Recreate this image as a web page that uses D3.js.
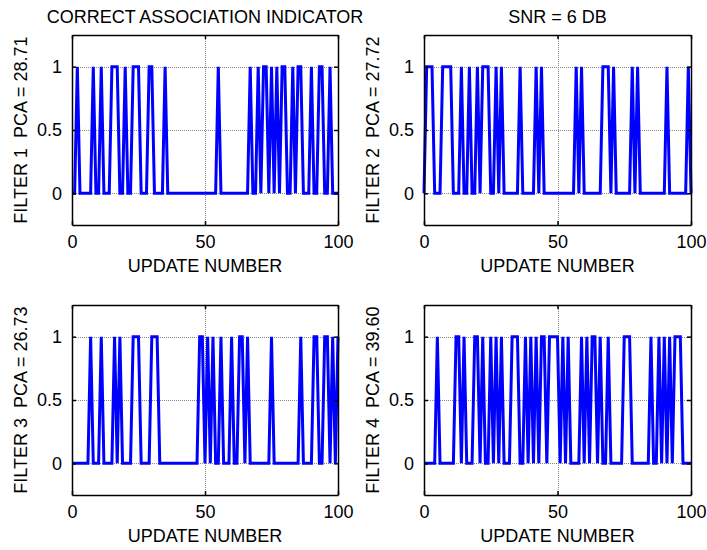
<!DOCTYPE html>
<html>
<head>
<meta charset="utf-8">
<script src="https://cdn.jsdelivr.net/npm/d3@7"></script>
<style>
  html, body { margin: 0; padding: 0; background: #fff; }
  svg text { font-family: "Liberation Sans", Arial, sans-serif; fill: #000; white-space: pre; }
</style>
</head>
<body>
<svg id="chart" width="707" height="550"></svg>
<script>
// Correct-association indicator (1 = correct) for update numbers 0..100
const filter1 = [
  0,0,1,0,0,0,0,0,1,0,
  0,1,0,0,0,1,1,1,0,0,
  1,0,0,1,1,1,0,0,0,1,
  1,0,0,0,0,1,0,0,0,0,
  0,0,0,0,0,0,0,0,0,0,
  0,0,0,0,0,1,0,0,0,0,
  0,0,0,0,0,0,0,1,0,0,
  1,0,1,1,0,1,0,1,0,1,
  1,0,0,1,0,1,1,0,0,0,
  1,0,0,1,1,0,0,1,0,0,
  0
];
const filter2 = [
  0,1,1,1,0,0,0,1,1,1,
  1,0,0,0,1,0,0,1,0,0,
  1,0,1,1,1,0,0,1,0,1,
  0,0,0,0,0,0,1,0,0,0,
  0,0,1,0,1,0,0,0,0,0,
  0,0,0,0,0,0,0,1,0,1,
  0,0,0,0,0,0,0,1,1,1,
  0,1,0,0,0,0,0,0,1,0,
  1,0,0,0,0,0,0,0,0,0,
  0,1,0,0,0,0,0,0,0,1,
  0
];
const filter3 = [
  0,0,0,0,0,0,0,1,0,0,
  0,1,0,0,0,0,1,0,1,0,
  0,0,0,1,1,1,0,0,0,0,
  1,1,1,0,0,0,0,0,0,0,
  0,0,0,0,0,0,0,0,1,1,
  0,1,0,1,0,0,1,0,0,0,
  1,0,0,1,1,0,1,0,0,0,
  0,0,0,0,0,1,0,0,0,0,
  0,0,0,0,0,0,1,0,0,0,
  0,1,1,0,0,1,1,0,1,0,
  1
];
const filter4 = [
  0,0,0,0,0,1,0,0,0,0,
  0,0,1,1,0,1,0,0,0,1,
  1,0,1,0,0,1,0,1,0,1,
  0,0,0,1,1,1,0,0,1,0,
  1,0,1,0,1,1,0,1,1,1,
  1,0,1,0,1,0,0,0,0,1,
  0,1,0,1,1,0,1,0,0,1,
  0,0,0,0,0,1,1,1,0,0,
  0,0,0,0,0,1,0,0,1,0,
  1,0,1,0,1,1,1,0,0,0,
  0
];

const xTicks = [0, 50, 100];
const yTicks = [0, 0.5, 1];
const yLabels = ["FILTER 1  PCA = 28.71", "FILTER 2  PCA = 27.72", "FILTER 3  PCA = 26.73", "FILTER 4  PCA = 39.60"];
const titles = ["CORRECT ASSOCIATION INDICATOR", "SNR = 6 DB", "", ""];
const xLabel = "UPDATE NUMBER";

const seriesList = [filter1, filter2, filter3, filter4];

const FONT = 18;
const svg = d3.select("#chart");

// panel frames: [left, right, top, bottom]
const frames = [
  [72, 338, 35, 225],
  [424, 691, 35, 225],
  [72, 338, 305, 495],
  [424, 691, 305, 495]
];

frames.forEach((f, i) => {
  const [l, r, t, b] = f;
  const x = d3.scaleLinear().domain([0, 100]).range([l, r]);
  const y = d3.scaleLinear().domain([-0.25, 1.25]).range([b, t]);
  const g = svg.append("g");

  // dotted grid
  const grid = g.append("g").attr("stroke", "#888").attr("stroke-width", 1).attr("stroke-dasharray", "1,1");
  grid.selectAll("line.gx").data(xTicks).join("line")
    .attr("x1", d => Math.round(x(d)) + 0.5).attr("x2", d => Math.round(x(d)) + 0.5)
    .attr("y1", t).attr("y2", b);
  grid.selectAll("line.gy").data(yTicks).join("line")
    .attr("x1", l).attr("x2", r)
    .attr("y1", d => Math.round(y(d)) + 0.5).attr("y2", d => Math.round(y(d)) + 0.5);

  // indicator trace
  const line = d3.line().x((d, u) => x(u)).y(d => y(d));
  g.append("path").datum(seriesList[i])
    .attr("fill", "none").attr("stroke", "#0000ff").attr("stroke-width", 3)
    .attr("stroke-linejoin", "miter").attr("stroke-miterlimit", 3)
    .attr("d", line);

  // axes (ticks inward, box style)
  const axB = g.append("g").attr("transform", `translate(0,${b})`)
    .call(d3.axisBottom(x).tickValues(xTicks).tickSizeInner(-4).tickSizeOuter(0).tickPadding(10));
  const axT = g.append("g").attr("transform", `translate(0,${t})`)
    .call(d3.axisTop(x).tickValues(xTicks).tickSizeInner(-4).tickSizeOuter(0).tickFormat(""));
  const axL = g.append("g").attr("transform", `translate(${l},0)`)
    .call(d3.axisLeft(y).tickValues(yTicks).tickSizeInner(-4).tickSizeOuter(0).tickPadding(10).tickFormat(d3.format("")));
  const axR = g.append("g").attr("transform", `translate(${r},0)`)
    .call(d3.axisRight(y).tickValues(yTicks).tickSizeInner(-4).tickSizeOuter(0).tickFormat(""));
  [axB, axT, axL, axR].forEach(a => {
    a.select(".domain").attr("stroke", "#000").attr("stroke-width", 1.5);
    a.selectAll(".tick line").attr("stroke", "#000").attr("stroke-width", 1.5);
    a.selectAll("text").attr("font-size", FONT).attr("font-family", "Liberation Sans, Arial, sans-serif");
  });

  // axis titles
  g.append("text")
    .attr("x", (l + r) / 2).attr("y", b + 47)
    .attr("text-anchor", "middle").attr("font-size", FONT)
    .text(xLabel);
  g.append("text")
    .attr("transform", `translate(${l - 45},${(t + b) / 2}) rotate(-90)`)
    .attr("text-anchor", "middle").attr("font-size", FONT)
    .text(yLabels[i]);
  if (titles[i]) {
    g.append("text")
      .attr("x", (l + r) / 2).attr("y", t - 12)
      .attr("text-anchor", "middle").attr("font-size", FONT)
      .text(titles[i]);
  }
});
</script>
</body>
</html>
